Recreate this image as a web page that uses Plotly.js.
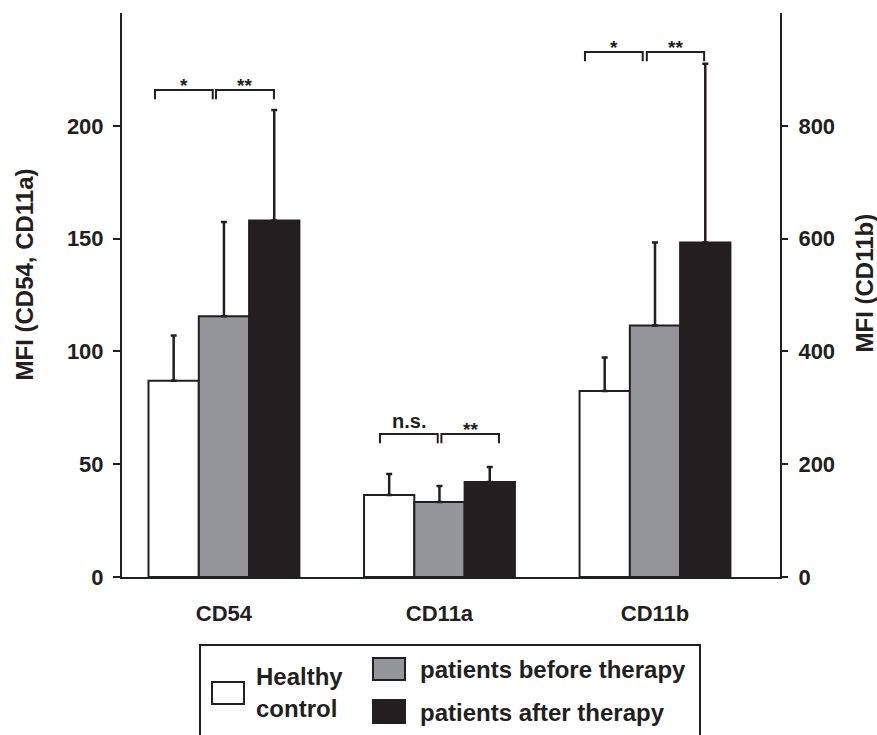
<!DOCTYPE html>
<html>
<head>
<meta charset="utf-8">
<script src="https://cdn.plot.ly/plotly-3.0.1.min.js"></script>
<style>html,body{margin:0;padding:0;background:#fff;}#chart{width:877px;height:735px;}</style>
</head>
<body>
<div id="chart"></div>
<script>
// ---- data ----
const categories = ['CD54', 'CD11a', 'CD11b'];
const leftCats = ['CD54', 'CD11a'];      // plotted on left axis
const rightCats = ['CD11b'];             // plotted on right axis
const seriesNames = ['Healthy control', 'patients before therapy', 'patients after therapy'];
const leftTitle = 'MFI (CD54, CD11a)';
const rightTitle = 'MFI (CD11b)';

const healthyLeft = [87, 36.3];
const healthyLeftErr = [20, 9.4];
const beforeLeft = [115.6, 33.2];
const beforeLeftErr = [41.8, 7.1];
const afterLeft = [158, 42.1];
const afterLeftErr = [49, 6.7];

const healthyRight = [330];
const healthyRightErr = [59];
const beforeRight = [446];
const beforeRightErr = [147];
const afterRight = [593];
const afterRightErr = [317];

const leftTicks = [0, 50, 100, 150, 200];
const rightTicks = [0, 200, 400, 600, 800];

// significance brackets: [x0, x1, yTop(left-axis units), label]
const bracketX0 = [-0.320, -0.037, 0.724, 1.009, 1.675, 1.962];
const bracketX1 = [-0.052, 0.232, 0.992, 1.276, 1.943, 2.228];
const bracketY = [215.9, 215.9, 63.4, 63.4, 232.7, 232.7];
const bracketLabels = ['*', '**', 'n.s.', '**', '*', '**'];

// ---- styling ----
const INK = '#231f20';
const fills = ['#ffffff', '#939598', '#231f20'];
const FONT = 'Liberation Sans, Arial, Helvetica, sans-serif';

function barTrace(name, x, y, err, fill, yaxis) {
  return {
    type: 'bar', name: name, x: x, y: y, yaxis: yaxis,
    marker: {color: fill, line: {color: INK, width: 2}},
    error_y: {type: 'data', symmetric: false, array: err, arrayminus: err.map(() => 0),
              color: INK, thickness: 2.5, width: 3},
    showlegend: false, hoverinfo: 'skip'
  };
}

const traces = [
  barTrace(seriesNames[0], leftCats, healthyLeft, healthyLeftErr, fills[0], 'y'),
  barTrace(seriesNames[1], leftCats, beforeLeft, beforeLeftErr, fills[1], 'y'),
  barTrace(seriesNames[2], leftCats, afterLeft, afterLeftErr, fills[2], 'y'),
  barTrace(seriesNames[0], rightCats, healthyRight, healthyRightErr, fills[0], 'y2'),
  barTrace(seriesNames[1], rightCats, beforeRight, beforeRightErr, fills[1], 'y2'),
  barTrace(seriesNames[2], rightCats, afterRight, afterRightErr, fills[2], 'y2')
];

// layout geometry
const W = 877, H = 735, ML = 122, MR = 97, MT = 13, MB = 158;
const PW = W - ML - MR, PH = H - MT - MB;
const px2x = p => (p - ML) / PW;
const py2y = p => (H - MB - p) / PH;

const shapes = [];
const annotations = [];
const LEG = 4.1; // bracket leg length in left-axis units
for (let i = 0; i < bracketX0.length; i++) {
  const x0 = bracketX0[i], x1 = bracketX1[i], y = bracketY[i];
  shapes.push({type: 'path', xref: 'x', yref: 'y',
    path: `M ${x0},${y - LEG} L ${x0},${y} L ${x1},${y} L ${x1},${y - LEG}`,
    line: {color: INK, width: 2}});
  const isNS = bracketLabels[i] === 'n.s.';
  annotations.push({xref: 'x', yref: 'y', x: (x0 + x1) / 2, y: y, yanchor: 'bottom',
    yshift: isNS ? 0 : -8, text: bracketLabels[i], showarrow: false,
    font: {family: FONT, size: isNS ? 20 : 19, color: INK, weight: 'bold'}});
}

// axis titles
const titleFont = {family: FONT, size: 24, color: INK, weight: 'bold'};
annotations.push({xref: 'paper', yref: 'paper', x: px2x(24), y: py2y(274.5),
  xanchor: 'center', yanchor: 'middle', textangle: -90, text: leftTitle,
  showarrow: false, font: titleFont});
annotations.push({xref: 'paper', yref: 'paper', x: px2x(864), y: py2y(283.5),
  xanchor: 'center', yanchor: 'middle', textangle: -90, text: rightTitle,
  showarrow: false, font: titleFont});

// custom legend
shapes.push({type: 'rect', xref: 'paper', yref: 'paper',
  x0: px2x(200), x1: px2x(700), y0: py2y(645), y1: py2y(760),
  line: {color: INK, width: 2}, fillcolor: 'rgba(0,0,0,0)'});
const sw = [[212, 244, 682, 704], [373, 405, 658, 680], [373, 405, 700, 723]];
for (let i = 0; i < 3; i++) {
  shapes.push({type: 'rect', xref: 'paper', yref: 'paper',
    x0: px2x(sw[i][0]), x1: px2x(sw[i][1]), y0: py2y(sw[i][2]), y1: py2y(sw[i][3]),
    line: {color: INK, width: 2}, fillcolor: fills[i]});
}
const legFont = {family: FONT, size: 24, color: INK, weight: 'bold'};
const legText = [['Healthy', 254, 676], ['control', 254, 708],
                 [seriesNames[1], 418, 669], [seriesNames[2], 418, 712]];
legText.forEach(t => annotations.push({xref: 'paper', yref: 'paper', x: px2x(t[1]), y: py2y(t[2]),
  xanchor: 'left', yanchor: 'middle', text: t[0], showarrow: false, font: legFont}));

const tickFont = {family: FONT, size: 22, color: INK, weight: 'bold'};

const layout = {
  width: W, height: H,
  margin: {l: ML, r: MR, t: MT, b: MB, pad: 0},
  paper_bgcolor: '#fff', plot_bgcolor: '#fff',
  barmode: 'group', bargap: 0.3, bargroupgap: 0,
  showlegend: false,
  xaxis: {type: 'category', categoryorder: 'array', categoryarray: categories,
    range: [-0.473, 2.58], showline: true, linecolor: INK, linewidth: 2,
    ticks: '', showgrid: false, zeroline: false, tickfont: tickFont,
    ticklabelstandoff: 16, fixedrange: true},
  yaxis: {range: [0, 250], tickvals: leftTicks, ticks: 'outside', ticklen: 7, tickwidth: 2,
    tickcolor: INK, showline: true, linecolor: INK, linewidth: 2, showgrid: false,
    zeroline: false, tickfont: tickFont, ticklabelstandoff: 5},
  yaxis2: {range: [0, 1000], tickvals: rightTicks, overlaying: 'y', side: 'right',
    ticks: 'outside', ticklen: 6, tickwidth: 2, tickcolor: INK, showline: true,
    linecolor: INK, linewidth: 2, showgrid: false, zeroline: false, tickfont: tickFont,
    ticklabelstandoff: 6},
  shapes: shapes,
  annotations: annotations
};

Plotly.newPlot('chart', traces, layout, {displayModeBar: false, staticPlot: true});
</script>
</body>
</html>
